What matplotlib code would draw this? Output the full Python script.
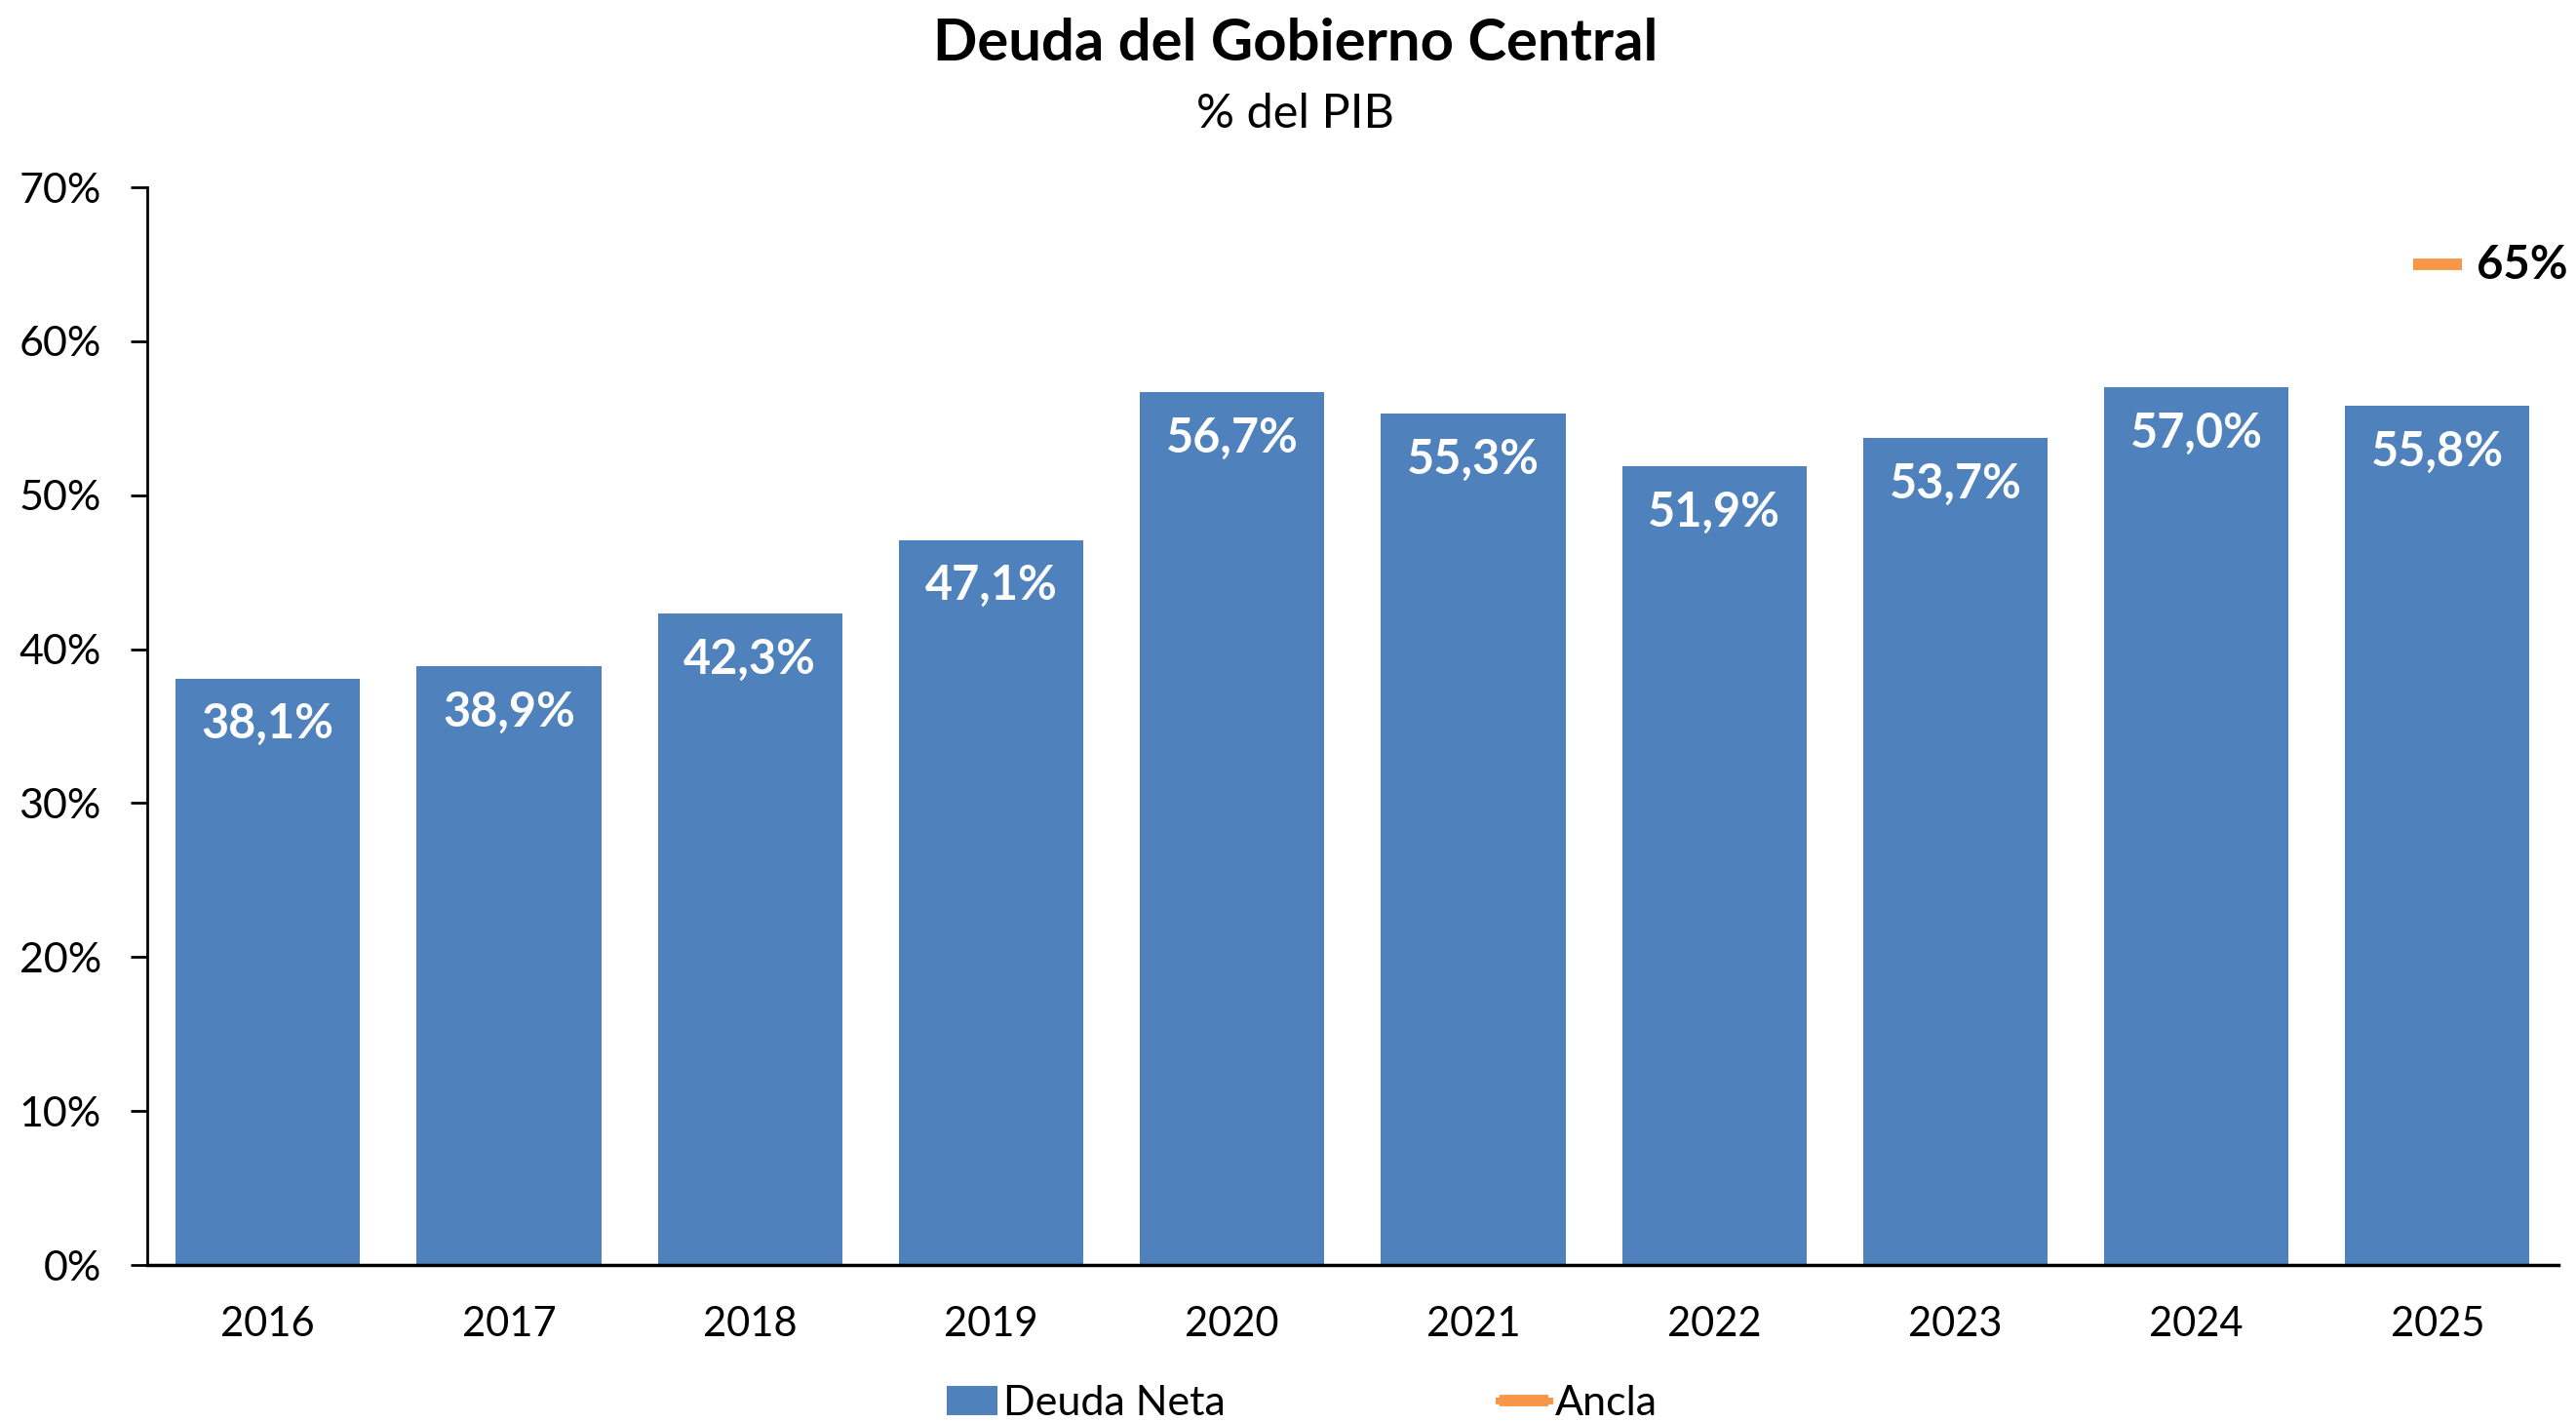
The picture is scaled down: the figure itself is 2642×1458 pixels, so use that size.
import numpy as np
import matplotlib.pyplot as plt

plt.rcParams['font.family'] = ['Lato', 'DejaVu Sans']

years = ['2016', '2017', '2018', '2019', '2020', '2021', '2022', '2023', '2024', '2025']
deuda_neta = [38.1, 38.9, 42.3, 47.1, 56.7, 55.3, 51.9, 53.7, 57.0, 55.8]
ancla = [np.nan] * 9 + [65.0]
yticks = [0, 10, 20, 30, 40, 50, 60, 70]

azul = '#4F81BD'
naranja = '#F79646'

fig = plt.figure(figsize=(26.42, 14.58), dpi=100)
ax = fig.add_axes([0.0572, 0.1104, 0.9358, 0.7579])

x = np.arange(len(years))
bars = ax.bar(x, deuda_neta, width=0.765, color=azul, label='Deuda Neta', zorder=2)
linea, = ax.plot(x, ancla, color=naranja, marker='_', markersize=36, markeredgewidth=8.5,
                 linestyle='-', linewidth=5, label='Ancla', zorder=3)

# etiquetas de valor dentro de cada barra
for xi, v in zip(x, deuda_neta):
    ax.annotate(f'{v:.1f}%'.replace('.', ','), (xi, v), xytext=(0, -34),
                textcoords='offset points', ha='center', va='center',
                color='white', fontsize=35, fontweight='bold')
ax.annotate(f'{ancla[-1]:.0f}%', (x[-1], ancla[-1]), xytext=(29, -1),
            textcoords='offset points', ha='left', va='center',
            color='black', fontsize=34, fontweight='bold')

ax.set_xlim(-0.5, len(years) - 0.5)
ax.set_ylim(0, 70)
ax.set_yticks(yticks)
ax.set_yticklabels([f'{t}%' for t in yticks])
ax.set_xticks(x)
ax.set_xticklabels(years)
ax.tick_params(axis='y', labelsize=31, length=12, width=2, pad=22)
ax.tick_params(axis='x', labelsize=30, length=0, pad=30)
for s in ['top', 'right']:
    ax.spines[s].set_visible(False)
ax.spines['left'].set_linewidth(2)
ax.spines['bottom'].set_linewidth(2.5)

fig.text(0.503, 0.969, 'Deuda del Gobierno Central', ha='center', va='center',
         fontsize=43, fontweight='bold')
fig.text(0.503, 0.920, '% del PIB', ha='center', va='center', fontsize=35)

fig.legend(handles=[bars, linea], loc='center', bbox_to_anchor=(0.5055, 0.013),
           ncol=2, frameon=False, fontsize=31, handlelength=1.2,
           handletextpad=0.15, columnspacing=6.5)

fig.savefig('out.png', dpi=100)
